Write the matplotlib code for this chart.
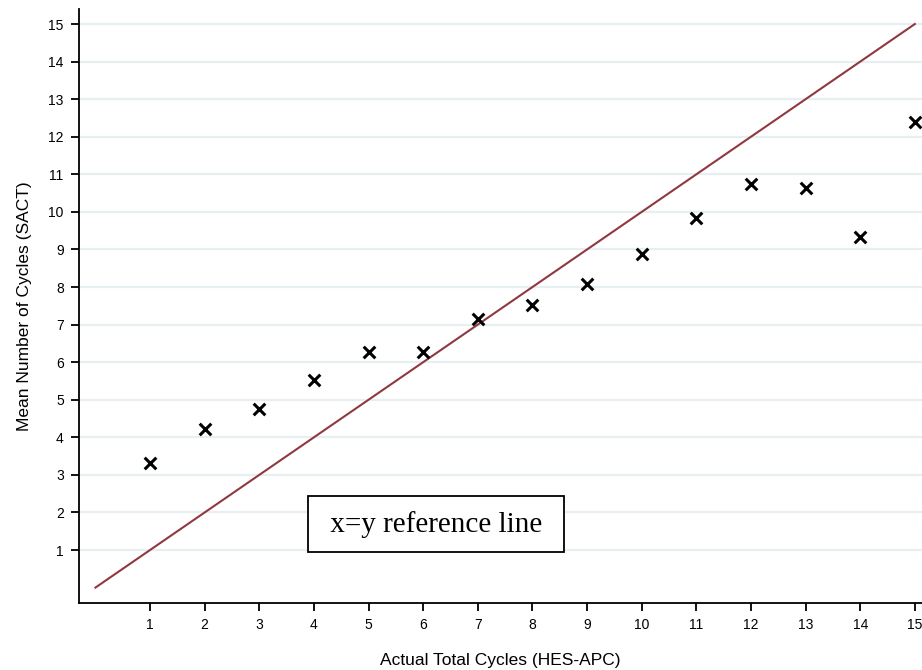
import matplotlib
matplotlib.use("Agg")

import matplotlib.pyplot as plt

plt.rcParams["font.family"] = ["Liberation Sans", "DejaVu Sans"]

# actual total cycles vs mean SACT cycles
actual_cycles = [1, 2, 3, 4, 5, 6, 7, 8, 9, 10, 11, 12, 13, 14, 15]
mean_sact = [3.32, 4.22, 4.75, 5.53, 6.27, 6.27, 7.15, 7.52, 8.08, 8.88,
             9.84, 10.74, 10.64, 9.33, 12.39]
ref_line = [0, 15]
ticks = list(range(1, 16))

fig = plt.figure(figsize=(9.22, 6.70), dpi=100)
ax = fig.add_axes([0.0857, 0.1, 1 - 0.0857, 0.8866])

for t in ticks:
    ax.axhline(t, color="#e8eff2", lw=1.6, zorder=0)

ax.plot(ref_line, ref_line, color="#903840", lw=1.5, zorder=2)
ax.scatter(actual_cycles, mean_sact, marker="x", s=70, color="black",
           linewidths=2.2, zorder=3, clip_on=False)

ax.set_xlim(-0.30, 15.13)
ax.set_ylim(-0.41, 15.4)
ax.set_xticks(ticks)
ax.set_yticks(ticks)
ax.tick_params(labelsize=10, length=6, width=1.3, color="black", pad=5)

for side in ("top", "right"):
    ax.spines[side].set_visible(False)
for side in ("left", "bottom"):
    ax.spines[side].set_linewidth(1.3)

ax.set_xlabel("Actual Total Cycles (HES-APC)", fontsize=12.5, labelpad=15)
ax.set_ylabel("Mean Number of Cycles (SACT)", fontsize=12.5, labelpad=12)

ax.text(6.23, 1.69, " x=y reference line ", family="Liberation Serif",
        fontsize=21, ha="center", va="center",
        bbox=dict(boxstyle="square,pad=0.5", fc="white", ec="black", lw=1.3))

fig.savefig("out.png", dpi=100)
plt.close(fig)
